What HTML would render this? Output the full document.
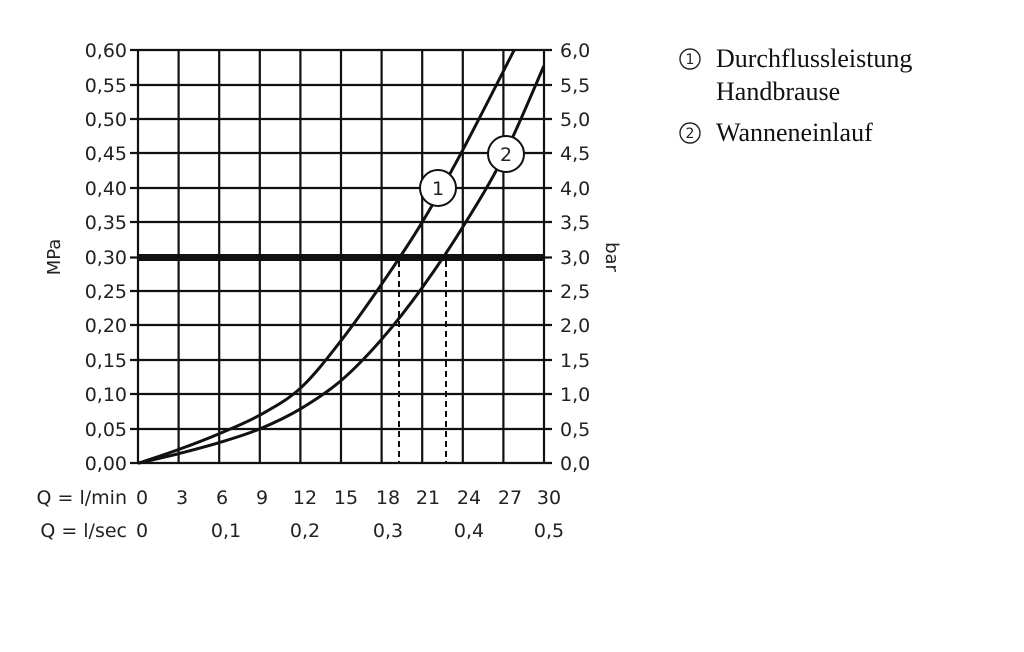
<!DOCTYPE html>
<html><head><meta charset="utf-8"><style>
html,body{margin:0;padding:0;background:#fff;width:1024px;height:652px;overflow:hidden}
</style></head><body>
<svg width="1024" height="652" xmlns="http://www.w3.org/2000/svg" font-family="'DejaVu Sans','Liberation Sans',sans-serif">
<g stroke="#111" stroke-width="2.2" fill="none">
<path d="M138 50V463M178.6 50V463M219.2 50V463M259.8 50V463M300.4 50V463M341 50V463M381.6 50V463M422.2 50V463M462.8 50V463M503.4 50V463M544 50V463"/>
<path d="M130 463H552M130 429H552M130 394H552M130 360H552M130 325H552M130 291H552M130 222H552M130 188H552M130 153H552M130 119H552M130 85H552M130 50H552"/>
</g>
<rect x="138" y="254" width="406" height="7" fill="#111"/>
<path d="M130 257.5H138M544 257.5H552" stroke="#111" stroke-width="2.2"/>
<g stroke="#111" stroke-width="2" stroke-dasharray="6,4">
<path d="M399 261V463M446 261V463"/>
</g>
<g stroke="#111" stroke-width="3" fill="none">
<path id="c1" d=""/>
<path id="c2" d=""/>
</g>
<g fill="#fff" stroke="#111" stroke-width="2">
<circle cx="438" cy="188" r="18"/>
<circle cx="506" cy="154" r="18"/>
</g>
<g font-size="19" fill="#222" text-anchor="middle">
<text x="438" y="195">1</text>
<text x="506" y="161">2</text>
</g>
<g font-size="19" fill="#222" text-anchor="end">
<text x="127" y="57">0,60</text><text x="127" y="92">0,55</text><text x="127" y="126">0,50</text>
<text x="127" y="160">0,45</text><text x="127" y="195">0,40</text><text x="127" y="229">0,35</text>
<text x="127" y="264">0,30</text><text x="127" y="298">0,25</text><text x="127" y="332">0,20</text>
<text x="127" y="367">0,15</text><text x="127" y="401">0,10</text><text x="127" y="436">0,05</text>
<text x="127" y="470">0,00</text>
</g>
<g font-size="19" fill="#222">
<text x="560" y="57">6,0</text><text x="560" y="92">5,5</text><text x="560" y="126">5,0</text>
<text x="560" y="160">4,5</text><text x="560" y="195">4,0</text><text x="560" y="229">3,5</text>
<text x="560" y="264">3,0</text><text x="560" y="298">2,5</text><text x="560" y="332">2,0</text>
<text x="560" y="367">1,5</text><text x="560" y="401">1,0</text><text x="560" y="436">0,5</text>
<text x="560" y="470">0,0</text>
</g>
<text font-size="18" fill="#222" transform="translate(60,257) rotate(-90)" text-anchor="middle">MPa</text>
<text font-size="18" fill="#222" transform="translate(606,257) rotate(90)" text-anchor="middle">bar</text>
<g font-size="19" fill="#222" text-anchor="end">
<text x="127" y="504">Q = l/min</text>
<text x="127" y="537">Q = l/sec</text>
</g>
<g font-size="19" fill="#222" text-anchor="middle">
<text x="142" y="504">0</text><text x="182" y="504">3</text><text x="222" y="504">6</text>
<text x="262" y="504">9</text><text x="305" y="504">12</text><text x="346" y="504">15</text>
<text x="388" y="504">18</text><text x="428" y="504">21</text><text x="469" y="504">24</text>
<text x="510" y="504">27</text><text x="549" y="504">30</text>
<text x="142" y="537">0</text><text x="226" y="537">0,1</text><text x="305" y="537">0,2</text>
<text x="388" y="537">0,3</text><text x="469" y="537">0,4</text><text x="549" y="537">0,5</text>
</g>
<g font-family="'Liberation Serif',serif" font-size="26" fill="#111">
<text x="716" y="67">Durchflussleistung</text>
<text x="716" y="100">Handbrause</text>
<text x="716" y="141">Wanneneinlauf</text>
</g>
<g fill="none" stroke="#222" stroke-width="1.4">
<circle cx="690" cy="59" r="10"/><circle cx="690" cy="133" r="10"/>
</g>
<g font-size="14" fill="#222" text-anchor="middle">
<text x="690" y="64">1</text><text x="690" y="138">2</text>
</g>
</svg>
<script>
function X(q){return 138+q*(406/30);}
function Y(p){return 463.3-p*(413.3/0.6);}
function build(data){
  var P=data.map(function(d){return [X(d[0]),Y(d[1])];});
  var s="M"+P[0][0].toFixed(1)+" "+P[0][1].toFixed(1);
  for(var i=0;i<P.length-1;i++){
    var p0=P[Math.max(i-1,0)],p1=P[i],p2=P[i+1],p3=P[Math.min(i+2,P.length-1)];
    var c1=[p1[0]+(p2[0]-p0[0])/6,p1[1]+(p2[1]-p0[1])/6];
    var c2=[p2[0]-(p3[0]-p1[0])/6,p2[1]-(p3[1]-p1[1])/6];
    s+=" C"+c1[0].toFixed(1)+" "+c1[1].toFixed(1)+" "+c2[0].toFixed(1)+" "+c2[1].toFixed(1)+" "+p2[0].toFixed(1)+" "+p2[1].toFixed(1);
  }
  return s;
}
document.getElementById("c1").setAttribute("d",build([[0,0],[3,0.02],[6,0.043],[9,0.07],[12,0.109],[15,0.178],[18,0.26],[21,0.35],[24,0.455],[27.8,0.6]]));
document.getElementById("c2").setAttribute("d",build([[0,0],[3,0.014],[6,0.03],[9,0.05],[12,0.079],[15,0.12],[18,0.18],[21,0.255],[24,0.343],[27,0.445],[30,0.577]]));
</script>
</body></html>
